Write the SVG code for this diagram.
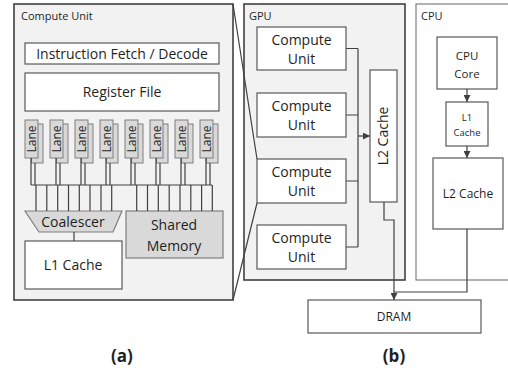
<svg xmlns="http://www.w3.org/2000/svg" width="508" height="372" viewBox="0 0 508 372">
<style>
text{font-family:"Open Sans","Noto Sans","Liberation Sans",sans-serif;fill:#1f1f1f;text-anchor:middle}
.outer{fill:#f2f2f2;stroke:#404040;stroke-width:1.6}
.box{fill:#fff;stroke:#595959;stroke-width:1.2}
.gbox{fill:#d9d9d9;stroke:#7f7f7f;stroke-width:1.2}
.lane{fill:#d9d9d9;stroke:#7f7f7f;stroke-width:1}
.wire{fill:none;stroke:#404040;stroke-width:1.2}
.t14{font-size:14px}
.lbl{font-size:11px;text-anchor:start}
</style>
<defs>
<marker id="ah" viewBox="0 0 10 10" refX="10" refY="5" markerWidth="7" markerHeight="7" markerUnits="userSpaceOnUse" orient="auto">
<path d="M0,0 L10,5 L0,10 z" fill="#404040"/>
</marker>
<g id="laneShape">
<rect class="lane" x="6.5" y="124" width="11.5" height="39"/>
<rect class="lane" x="0" y="120" width="13" height="38"/>
<text transform="translate(10.8,139) rotate(-90)" font-size="12">Lane</text>
</g>
</defs>

<g id="compute-unit-detail">
<rect class="outer" x="14" y="4" width="219" height="296"/>
<text class="lbl" x="21" y="20">Compute Unit</text>
</g>
<g id="ifd"><rect class="box" x="25" y="43" width="194" height="21"/><text class="t14" x="122" y="58.5">Instruction Fetch / Decode</text></g>
<g id="regfile"><rect class="box" x="25" y="73" width="194" height="38"/><text class="t14" x="122" y="97">Register File</text></g>
<g id="lanes">
<use href="#laneShape" x="25"/><use href="#laneShape" x="50"/><use href="#laneShape" x="75"/><use href="#laneShape" x="100"/>
<use href="#laneShape" x="125"/><use href="#laneShape" x="150"/><use href="#laneShape" x="175"/><use href="#laneShape" x="200"/>
</g>
<g id="coalescer"><path class="gbox" d="M25,211 H122 L113,232 H39 Z"/><text class="t14" x="73" y="226.5">Coalescer</text></g>
<g id="shared-memory"><rect class="gbox" x="126" y="211" width="97" height="47"/><text class="t14" x="174" y="230">Shared</text><text class="t14" x="174" y="251">Memory</text></g>
<g id="l1-cache"><rect class="box" x="25" y="241" width="97" height="48"/><text class="t14" x="73" y="270">L1 Cache</text></g>

<g id="gpu"><rect class="outer" x="244" y="4" width="161" height="276"/><text class="lbl" x="249" y="20" font-size="12">GPU</text></g>
<g id="gpu-cu1"><rect class="box" x="257" y="27" width="89" height="43"/><text class="t14" x="301.5" y="45">Compute</text><text class="t14" x="301.5" y="64">Unit</text></g>
<g id="gpu-cu2"><rect class="box" x="257" y="93" width="89" height="44"/><text class="t14" x="301.5" y="111">Compute</text><text class="t14" x="301.5" y="130">Unit</text></g>
<g id="gpu-cu3"><rect class="box" x="257" y="159" width="89" height="44"/><text class="t14" x="301.5" y="177">Compute</text><text class="t14" x="301.5" y="196">Unit</text></g>
<g id="gpu-cu4"><rect class="box" x="257" y="225" width="89" height="44"/><text class="t14" x="301.5" y="243">Compute</text><text class="t14" x="301.5" y="262">Unit</text></g>
<g id="gpu-l2"><rect class="box" x="370" y="70" width="27" height="132"/><text class="t14" transform="translate(388,136) rotate(-90)">L2 Cache</text></g>

<g id="cpu"><rect fill="#fff" stroke="#7f7f7f" stroke-width="1.2" x="416" y="4" width="100" height="276"/><text class="lbl" x="421" y="20" font-size="12">CPU</text></g>
<g id="cpu-core"><rect class="box" x="437" y="37" width="60" height="52"/><text x="467" y="60" font-size="11.5">CPU</text><text x="467" y="78" font-size="11.5">Core</text></g>
<g id="cpu-l1"><rect class="box" x="446" y="102" width="42" height="44"/><text x="467" y="121" font-size="9.5">L1</text><text x="467" y="136" font-size="9.5">Cache</text></g>
<g id="cpu-l2"><rect class="box" x="433" y="158" width="70" height="71"/><text x="468" y="198" font-size="12">L2 Cache</text></g>

<g id="dram"><rect class="box" x="308" y="300" width="173" height="33"/><text x="394" y="321" font-size="12">DRAM</text></g>

<g id="connectors">
<path class="wire" d="M31,158V185M35,163V185M56,158V185M60,163V185M81,158V185M85,163V185M106,158V185M110,163V185M131,158V185M135,163V185M156,158V185M160,163V185M181,158V185M185,163V185M206,158V185M210,163V185"/>
<path class="wire" d="M31,185H212"/>
<path class="wire" d="M36,185V211M46.8,185V211M57.7,185V211M68.5,185V211M79.3,185V211M90,185V211M101,185V211M111.7,185V211M136.7,185V211M147.5,185V211M158.3,185V211M169.2,185V211M180,185V211M190.8,185V211M201.6,185V211M212.3,185V211"/>
<path class="wire" d="M74,232V241"/>
<path class="wire" d="M233,4L257,159M257,203L233,300"/>
<path class="wire" d="M346,48.5H358M346,115H358M346,181H358M346,247H358M358,48.5V247"/>
<path class="wire" d="M358,136H370" marker-end="url(#ah)"/>
<path class="wire" d="M467,89V102" marker-end="url(#ah)"/>
<path class="wire" d="M467,146V158" marker-end="url(#ah)"/>
<path class="wire" d="M384,202V220H394V300" marker-end="url(#ah)"/>
<path class="wire" d="M467,229V292H394"/>
</g>

<g id="captions">
<text x="122" y="362" font-size="17" font-weight="bold">(a)</text>
<text x="394" y="362" font-size="17" font-weight="bold">(b)</text>
</g>
</svg>
